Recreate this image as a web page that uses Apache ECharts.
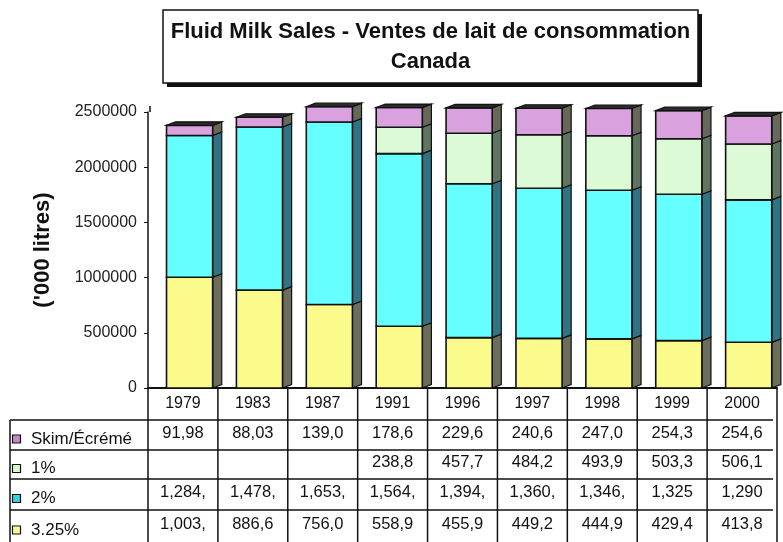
<!DOCTYPE html>
<html>
<head>
<meta charset="utf-8">
<script src="https://cdn.jsdelivr.net/npm/echarts@6/dist/echarts.min.js"></script>
<style>
  html, body { margin: 0; padding: 0; background: #fff; }
  #chart { width: 783px; height: 542px; }
</style>
</head>
<body>
<div id="chart"></div>
<script>
const FONT = '"Liberation Sans", Arial, sans-serif';

const years = ["1979", "1983", "1987", "1991", "1996", "1997", "1998", "1999", "2000"];
// thousands of litres, bottom of the stack first
const whole = [1003000, 886600, 756000, 558900, 455900, 449200, 444900, 429400, 413800];
const twoPct = [1284000, 1478000, 1653000, 1564000, 1394000, 1360000, 1346000, 1325000, 1290000];
const onePct = [0, 0, 0, 238800, 457700, 484200, 493900, 503300, 506100];
const skim = [91980, 88030, 139000, 178600, 229600, 240600, 247000, 254300, 254600];

// what the data table prints (cells are clipped in the original)
const wholeText = ["1,003,", "886,6", "756,0", "558,9", "455,9", "449,2", "444,9", "429,4", "413,8"];
const twoText = ["1,284,", "1,478,", "1,653,", "1,564,", "1,394,", "1,360,", "1,346,", "1,325", "1,290"];
const oneText = ["", "", "", "238,8", "457,7", "484,2", "493,9", "503,3", "506,1"];
const skimText = ["91,98", "88,03", "139,0", "178,6", "229,6", "240,6", "247,0", "254,3", "254,6"];

const names = ["3.25%", "2%", "1%", "Skim/Écrémé"];
const FRONT = ["#fbfb8c", "#66ffff", "#ddfad6", "#d9a2de"];
const SIDE = ["#6d6d5c", "#2f7385", "#5f7561", "#67675a"];
const KEY = ["#ffff99", "#3ccfe0", "#d4ffcc", "#c985c9"];

const layers = [whole, twoPct, onePct, skim];
const texts = [wholeText, twoText, oneText, skimText];

// stack the layers
const base = years.map(() => 0);
const stacked = layers.map((vals) =>
  vals.map((v, i) => {
    const lo = base[i];
    base[i] += v;
    return [i, lo, base[i]];
  })
);

function renderSeg(k) {
  return function (params, api) {
    const i = api.value(0), lo = api.value(1), hi = api.value(2);
    if (hi <= lo) return;
    const band = api.size([1, 0])[0];
    const pLo = api.coord([i, lo]);
    const pHi = api.coord([i, hi]);
    const x0 = pLo[0] - band * 0.235;
    const x1 = pLo[0] + band * 0.425;
    const dx = band * 0.13, dy = 3.5;
    const kids = [
      {
        type: "polygon",
        shape: { points: [[x1, pLo[1]], [x1 + dx, pLo[1] - dy], [x1 + dx, pHi[1] - dy], [x1, pHi[1]]] },
        style: { fill: SIDE[k], stroke: "#111", lineWidth: 1.2 },
      },
      {
        type: "rect",
        shape: { x: x0, y: pHi[1], width: x1 - x0, height: pLo[1] - pHi[1] },
        style: { fill: FRONT[k], stroke: "#111", lineWidth: 1.6 },
      },
    ];
    if (k === layers.length - 1) {
      kids.push({
        type: "polygon",
        shape: { points: [[x0, pHi[1]], [x0 + dx, pHi[1] - dy], [x1 + dx, pHi[1] - dy], [x1, pHi[1]]] },
        style: { fill: "#2a2a2a", stroke: "#111", lineWidth: 1.2 },
      });
    }
    return { type: "group", children: kids };
  };
}

const chart = echarts.init(document.getElementById("chart"), null, { renderer: "canvas" });

chart.setOption({
  animation: false,
  backgroundColor: "#fff",
  grid: { left: 148, right: 6, top: 112, bottom: 154 },
  xAxis: {
    type: "category",
    data: years,
    axisLine: { lineStyle: { color: "#111", width: 2 } },
    axisTick: { show: false },
    axisLabel: { color: "#111", fontFamily: FONT, fontSize: 16, margin: 8 },
  },
  yAxis: {
    type: "value",
    min: 0,
    max: 2500000,
    interval: 500000,
    name: "('000 litres)",
    nameLocation: "middle",
    nameGap: 94,
    nameTextStyle: { color: "#111", fontFamily: FONT, fontSize: 22, fontWeight: "bold" },
    axisLine: { show: true, lineStyle: { color: "#111", width: 1.5 } },
    axisTick: { show: true, length: 4, lineStyle: { color: "#111" } },
    axisLabel: { color: "#222", fontFamily: FONT, fontSize: 16, margin: 11, formatter: (v) => String(v) },
    splitLine: { show: false },
  },
  series: stacked.map((data, k) => ({
    type: "custom",
    name: names[k],
    data: data,
    encode: { x: 0, y: [1, 2] },
    renderItem: renderSeg(k),
  })),
});

// data table + title, laid out from the category axis
const c0 = chart.convertToPixel({ xAxisIndex: 0 }, 0);
const c1 = chart.convertToPixel({ xAxisIndex: 0 }, 1);
const band = c1 - c0;
const yBase = chart.convertToPixel({ yAxisIndex: 0 }, 0);
const yTop = chart.convertToPixel({ yAxisIndex: 0 }, 2500000);
const H = 542;
const rowLines = [420, 450, 479, 510];
const rowBottoms = [450, 479, 510, 542];
const bounds = years.map((y, i) => c0 + band * (i - 0.5));
bounds.push(c0 + band * (years.length - 0.5));
const tableRight = bounds[bounds.length - 1];
const line = (x1, y1, x2, y2, w) => ({
  type: "line",
  shape: { x1, y1, x2, y2 },
  style: { stroke: "#111", lineWidth: w || 1.5 },
  silent: true,
});

const g = [];
g.push(line(150, yTop - 6, 150, yTop, 1.5));
bounds.forEach((x) => g.push(line(x, yBase, x, H, 1.5)));
g.push(line(10, rowLines[0], 10, H, 1.5));
rowLines.forEach((y) => g.push(line(10, y, tableRight - 4, y, 1.5)));

// table rows: top row is skim, bottom is 3.25%
const order = [3, 2, 1, 0];
order.forEach((k, r) => {
  const mid = (rowLines[r] + rowBottoms[r]) / 2;
  g.push({
    type: "rect",
    shape: { x: 12.5, y: mid, width: 8, height: 8 },
    style: { fill: KEY[k], stroke: "#111", lineWidth: 1.2 },
  });
  g.push({
    type: "text",
    x: 31,
    y: mid + 4,
    style: { text: names[k], fill: "#111", font: "17px " + FONT, textVerticalAlign: "middle" },
  });
  texts[k].forEach((t, i) => {
    g.push({
      type: "text",
      x: c0 + band * i,
      y: mid - 2,
      style: { text: t, fill: "#111", font: "16.5px " + FONT, textAlign: "center", textVerticalAlign: "middle" },
    });
  });
});

// title box with drop shadow
g.push({ type: "rect", shape: { x: 167, y: 14, width: 535, height: 73 }, style: { fill: "#111" } });
g.push({ type: "rect", shape: { x: 163, y: 10, width: 535, height: 73 }, style: { fill: "#fff", stroke: "#111", lineWidth: 1.5 } });
g.push({
  type: "text", x: 430.5, y: 32,
  style: { text: "Fluid Milk Sales - Ventes de lait de consommation", fill: "#111", font: "bold 22px " + FONT, textAlign: "center", textVerticalAlign: "middle" },
});
g.push({
  type: "text", x: 430.5, y: 62,
  style: { text: "Canada", fill: "#111", font: "bold 22px " + FONT, textAlign: "center", textVerticalAlign: "middle" },
});

chart.setOption({ graphic: g });
</script>
</body>
</html>
